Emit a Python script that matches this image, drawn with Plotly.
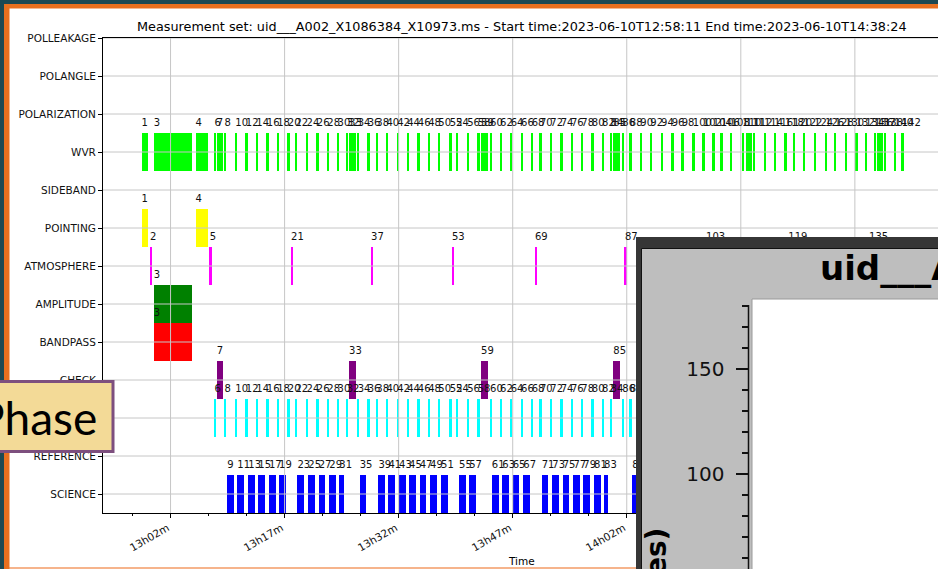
import plotly.graph_objects as go
from datetime import datetime

W, H = 938, 569
DAY = "2023-06-10"

# ---- intent rows, bottom to top ----
ROWS = ["SCIENCE", "REFERENCE", "PHASE", "CHECK", "BANDPASS", "AMPLITUDE",
        "ATMOSPHERE", "POINTING", "SIDEBAND", "WVR", "POLARIZATION",
        "POLANGLE", "POLLEAKAGE"]

COLORS = {"SCIENCE": "#0000ff", "PHASE": "#00ffff", "CHECK": "#800080",
          "BANDPASS": "#ff0000", "AMPLITUDE": "#008000", "ATMOSPHERE": "#ff00ff",
          "POINTING": "#ffff00", "WVR": "#00ff00"}

# ---- scan table per intent (scan number, start, end; UTC on DAY) ----
POINTING_SCANS = [1, 4]
POINTING_START = ["12:58:11", "13:05:17"]
POINTING_END = ["12:59:00", "13:06:54"]

BANDPASS_SCANS = [3]
BANDPASS_START = ["12:59:47"]
BANDPASS_END = ["13:04:47"]

AMPLITUDE_SCANS = [3]
AMPLITUDE_START = ["12:59:47"]
AMPLITUDE_END = ["13:04:47"]

ATMOSPHERE_SCANS = [2, 5, 21, 37, 53, 69, 87, 103, 119, 135]
ATMOSPHERE_START = ["12:59:18", "13:07:09", "13:17:51", "13:28:22", "13:39:01",
                    "13:49:56", "14:01:46", "14:12:26", "14:23:15", "14:33:52"]
ATMOSPHERE_END = ["12:59:33", "13:07:24", "13:18:06", "13:28:37", "13:39:16",
                  "13:50:11", "14:02:01", "14:12:41", "14:23:30", "14:34:07"]

CHECK_SCANS = [7, 33, 59, 85, 111, 137]
CHECK_START = ["13:08:05", "13:25:29", "13:42:50", "14:00:14", "14:17:39", "14:34:51"]
CHECK_END = ["13:08:57", "13:26:21", "13:43:43", "14:01:07", "14:18:32", "14:35:44"]

PHASE_SCANS = [6, 8, 10, 12, 14, 16, 18, 20, 22, 24, 26, 28, 30, 32, 34, 36, 38,
               40, 42, 44, 46, 48, 50, 52, 54, 56, 58, 60, 62, 64, 66, 68, 70,
               72, 74, 76, 78, 80, 82, 84, 86, 88, 90, 92, 94, 96, 98, 100, 102,
               104, 106, 108, 110, 112, 114, 116, 118, 120, 122, 124, 126, 128,
               130, 132, 134, 136, 138, 140, 142]
PHASE_START = ["13:07:47", "13:09:05", "13:10:31", "13:11:54", "13:13:17", "13:14:40",
               "13:16:02", "13:17:25", "13:18:26", "13:19:53", "13:21:14", "13:22:37",
               "13:23:58", "13:25:10", "13:26:37", "13:27:56", "13:29:04", "13:30:24",
               "13:31:48", "13:33:07", "13:34:31", "13:35:53", "13:37:13", "13:38:44",
               "13:39:33", "13:41:01", "13:42:24", "13:44:01", "13:45:20", "13:46:44",
               "13:48:06", "13:49:30", "13:50:35", "13:51:57", "13:53:19", "13:54:40",
               "13:56:01", "13:57:24", "13:58:45", "13:59:52", "14:01:25", "14:02:24",
               "14:03:47", "14:05:06", "14:06:31", "14:07:55", "14:09:14", "14:10:41",
               "14:12:00", "14:13:19", "14:14:22", "14:15:40", "14:17:12", "14:18:40",
               "14:20:03", "14:21:22", "14:22:47", "14:23:52", "14:25:13", "14:26:38",
               "14:28:05", "14:29:21", "14:30:43", "14:32:07", "14:33:22", "14:34:31",
               "14:35:50", "14:37:09", "14:38:10"]
PHASE_END = ["13:08:01", "13:09:19", "13:10:45", "13:12:08", "13:13:31", "13:14:54",
             "13:16:16", "13:17:39", "13:18:40", "13:20:07", "13:21:28", "13:22:51",
             "13:24:12", "13:25:24", "13:26:51", "13:28:10", "13:29:18", "13:30:38",
             "13:32:02", "13:33:21", "13:34:45", "13:36:07", "13:37:27", "13:38:58",
             "13:39:47", "13:41:15", "13:42:38", "13:44:15", "13:45:34", "13:46:58",
             "13:48:20", "13:49:44", "13:50:49", "13:52:11", "13:53:33", "13:54:54",
             "13:56:15", "13:57:38", "13:58:59", "14:00:06", "14:01:39", "14:02:38",
             "14:04:01", "14:05:20", "14:06:45", "14:08:09", "14:09:28", "14:10:55",
             "14:12:14", "14:13:33", "14:14:36", "14:15:54", "14:17:26", "14:18:54",
             "14:20:17", "14:21:36", "14:23:01", "14:24:06", "14:25:27", "14:26:52",
             "14:28:19", "14:29:35", "14:30:57", "14:32:21", "14:33:36", "14:34:45",
             "14:36:04", "14:37:23", "14:38:24"]

SCIENCE_SCANS = [9, 11, 13, 15, 17, 19, 23, 25, 27, 29, 31, 35, 39, 41, 43, 45, 47,
                 49, 51, 55, 57, 61, 63, 65, 67, 71, 73, 75, 77, 79, 81, 83, 89, 91,
                 93, 95, 97, 99, 101, 105, 107, 109, 113, 115, 117, 121, 123, 125,
                 127, 129, 131, 133, 139, 141]
SCIENCE_START = ["13:09:28", "13:10:47", "13:12:14", "13:13:33", "13:14:57", "13:16:16",
                 "13:18:41", "13:20:07", "13:21:29", "13:22:53", "13:24:12", "13:26:53",
                 "13:29:20", "13:30:39", "13:32:03", "13:33:22", "13:34:46", "13:36:08",
                 "13:37:35", "13:39:57", "13:41:17", "13:44:15", "13:45:38", "13:47:00",
                 "13:48:24", "13:50:49", "13:52:13", "13:53:35", "13:54:59", "13:56:17",
                 "13:57:42", "13:59:01", "14:02:44", "14:04:03", "14:05:22", "14:06:47",
                 "14:08:11", "14:09:30", "14:10:57", "14:13:35", "14:14:38", "14:15:56",
                 "14:18:56", "14:20:19", "14:21:38", "14:24:08", "14:25:29", "14:26:54",
                 "14:28:21", "14:29:37", "14:30:59", "14:32:23", "14:36:06", "14:37:25"]
SCIENCE_END = ["13:10:21", "13:11:40", "13:13:07", "13:14:26", "13:15:50", "13:17:09",
               "13:19:33", "13:21:00", "13:22:22", "13:23:46", "13:24:49", "13:27:45",
               "13:30:13", "13:31:32", "13:32:56", "13:34:15", "13:35:39", "13:37:01",
               "13:38:28", "13:40:50", "13:42:10", "13:45:08", "13:46:31", "13:47:53",
               "13:49:17", "13:51:42", "13:53:06", "13:54:28", "13:55:52", "13:57:10",
               "13:58:35", "13:59:35", "14:03:37", "14:04:56", "14:06:15", "14:07:40",
               "14:09:04", "14:10:23", "14:11:50", "14:14:12", "14:15:31", "14:16:49",
               "14:19:49", "14:21:12", "14:22:31", "14:25:01", "14:26:22", "14:27:47",
               "14:29:14", "14:30:30", "14:31:52", "14:33:16", "14:36:59", "14:38:05"]

# ---- time axis ----
X_RANGE = ["12:53:07", "14:42:56"]
MAJOR_TICKS = ["13:02", "13:17", "13:32", "13:47", "14:02", "14:17", "14:32"]
MAJOR_LABELS = ["13h02m", "13h17m", "13h32m", "13h47m", "14h02m", "14h17m", "14h32m"]
MINOR_TICKS = ["12:57", "13:07", "13:12", "13:22", "13:27", "13:37", "13:42",
               "13:52", "13:57", "14:07", "14:12", "14:22", "14:27", "14:37", "14:42"]

TITLE = ("Measurement set: uid___A002_X1086384_X10973.ms - "
         "Start time:2023-06-10T12:58:11 End time:2023-06-10T14:38:24")

# ---- inset panel (elevation plot window) ----
INSET_TITLE = "uid___A002_X1086384_X10973"
INSET_YLABEL = "Azimuth (degrees)"
INSET_MAJOR = [100, 150]
INSET_MINOR = [60, 70, 80, 90, 110, 120, 130, 140, 160, 170, 180]
INSET_RANGE = [54.7, 213.1]

LABEL_LIFT = 0.12  # scan numbers sit slightly above the bar tops


def ts(t):
    return f"{DAY} {t}" if len(t) > 5 else f"{DAY} {t}:00"


def seconds(a, b):
    fmt = "%H:%M:%S"
    return (datetime.strptime(b, fmt) - datetime.strptime(a, fmt)).total_seconds()


intent_tables = {
    "SCIENCE": (SCIENCE_SCANS, SCIENCE_START, SCIENCE_END),
    "PHASE": (PHASE_SCANS, PHASE_START, PHASE_END),
    "CHECK": (CHECK_SCANS, CHECK_START, CHECK_END),
    "BANDPASS": (BANDPASS_SCANS, BANDPASS_START, BANDPASS_END),
    "AMPLITUDE": (AMPLITUDE_SCANS, AMPLITUDE_START, AMPLITUDE_END),
    "ATMOSPHERE": (ATMOSPHERE_SCANS, ATMOSPHERE_START, ATMOSPHERE_END),
    "POINTING": (POINTING_SCANS, POINTING_START, POINTING_END),
}
# WVR data were taken during every calibrator scan except atmosphere/science
wvr = []
for key in ["POINTING", "BANDPASS", "PHASE", "CHECK"]:
    s, a, b = intent_tables[key]
    wvr += list(zip(s, a, b))
wvr.sort()
intent_tables["WVR"] = ([w[0] for w in wvr], [w[1] for w in wvr], [w[2] for w in wvr])

DRAW_ORDER = ["SCIENCE", "PHASE", "CHECK", "BANDPASS", "AMPLITUDE",
              "ATMOSPHERE", "POINTING", "WVR"]

TEAL = "#1d4953"
ORANGE = "#e8701f"


def px_x(x):
    return x / W


def px_y(y):
    return 1 - y / H


fig = go.Figure()

# bars, one trace per intent
for name in DRAW_ORDER:
    scans, starts, ends = intent_tables[name]
    row = ROWS.index(name)
    fig.add_trace(go.Bar(
        orientation="h",
        base=[ts(s) for s in starts],
        x=[seconds(s, e) * 1000 for s, e in zip(starts, ends)],
        y=[row] * len(scans), width=1,
        marker=dict(color=COLORS[name], line=dict(width=0)),
        hoverinfo="skip", showlegend=False))

# grid drawn over the bars
gx, gy = [], []
for t in MAJOR_TICKS:
    gx += [ts(t), ts(t), None]
    gy += [-0.5, len(ROWS) - 1, None]
for r in range(len(ROWS)):
    gx += [ts(X_RANGE[0]), ts(X_RANGE[1]), None]
    gy += [r, r, None]
fig.add_trace(go.Scatter(x=gx, y=gy, mode="lines",
                         line=dict(color="#c6c6c6", width=1),
                         hoverinfo="skip", showlegend=False))

# scan numbers above each bar
lx, ly, lt = [], [], []
for name in DRAW_ORDER:
    scans, starts, ends = intent_tables[name]
    row = ROWS.index(name)
    for s, a in zip(scans, starts):
        lx.append(ts(a))
        ly.append(row + 0.5 + LABEL_LIFT)
        lt.append(str(s))
fig.add_trace(go.Scatter(x=lx, y=ly, text=lt, mode="text",
                         textposition="top right",
                         textfont=dict(family="DejaVu Sans", size=10, color="#111"),
                         hoverinfo="skip", showlegend=False))

# placeholder trace that creates the inset subplot
fig.add_trace(go.Scatter(x=[None], y=[None], xaxis="x2", yaxis="y2",
                         hoverinfo="skip", showlegend=False))

y_lo, y_hi = INSET_RANGE
units_per_px = (y_hi - y_lo) / (H - 237)


def inset_y(py):
    return y_lo + (H - py) * units_per_px


shapes = [
    # slide frame
    dict(type="rect", xref="paper", yref="paper", layer="below",
         x0=px_x(4), x1=1, y0=0, y1=px_y(4), fillcolor=ORANGE, line=dict(width=0)),
    dict(type="rect", xref="paper", yref="paper", layer="below",
         x0=px_x(9.5), x1=1, y0=px_y(567), y1=px_y(8.5), fillcolor="white",
         line=dict(width=0)),
    dict(type="rect", xref="paper", yref="paper", layer="below",
         x0=px_x(9.5), x1=1, y0=0, y1=px_y(567), fillcolor="#f6b48c",
         line=dict(width=0)),
    # inset window
    dict(type="rect", xref="x2", yref="y2", layer="below",
         x0=636, x1=940, y0=inset_y(571), y1=inset_y(237), fillcolor="#363636",
         line=dict(width=0)),
    dict(type="rect", xref="x2", yref="y2", layer="below",
         x0=641.5, x1=940, y0=inset_y(571), y1=inset_y(248.5), fillcolor="#bebebe",
         line=dict(color="#111", width=1)),
    dict(type="rect", xref="x2", yref="y2", layer="below",
         x0=752, x1=940, y0=inset_y(571), y1=inset_y(299), fillcolor="white",
         line=dict(color="#9a9a9a", width=1)),
    dict(type="line", xref="x2", yref="y2", layer="below",
         x0=748.5, x1=748.5, y0=inset_y(571), y1=inset_y(305),
         line=dict(color="#111", width=1.5)),
    # slide label box
    dict(type="rect", xref="paper", yref="paper", layer="above",
         x0=px_x(-4), x1=px_x(113), y0=px_y(451.5), y1=px_y(381.5),
         fillcolor="#f3da97", line=dict(color="#7d4f7e", width=3)),
]

annotations = [
    dict(text=TITLE, xref="paper", yref="paper", x=px_x(522), y=px_y(26),
         xanchor="center", yanchor="middle", showarrow=False,
         font=dict(family="DejaVu Sans", size=12.8, color="#000")),
    dict(text="Time", xref="paper", yref="paper", x=px_x(521), y=px_y(561),
         xanchor="center", yanchor="middle", showarrow=False,
         font=dict(family="DejaVu Sans", size=10.5, color="#000")),
    dict(text="Phase", xref="paper", yref="paper", x=px_x(99), y=px_y(417),
         xanchor="right", yanchor="middle", showarrow=False,
         font=dict(family="Lato", size=46, color="#000")),
    dict(text="<b>" + INSET_TITLE + "</b>", xref="paper", yref="paper",
         x=px_x(818), y=px_y(268), xanchor="left", yanchor="middle",
         showarrow=False, font=dict(family="DejaVu Sans", size=34, color="#000")),
    dict(text="<b>" + INSET_YLABEL + "</b>", xref="paper", yref="paper",
         x=px_x(656), y=px_y(526), xanchor="center", yanchor="top",
         textangle=-90, showarrow=False,
         font=dict(family="DejaVu Sans", size=28, color="#000")),
]

fig.update_layout(
    width=W, height=H, margin=dict(l=0, r=0, t=0, b=0),
    template="none", paper_bgcolor=TEAL, plot_bgcolor="white",
    barmode="overlay", bargap=0, showlegend=False,
    shapes=shapes, annotations=annotations,
    xaxis=dict(type="date", domain=[px_x(103), 1], anchor="y",
               range=[ts(X_RANGE[0]), ts(X_RANGE[1])],
               tickmode="array", tickvals=[ts(t) for t in MAJOR_TICKS],
               ticktext=MAJOR_LABELS, tickangle=-30, ticklabelshift=-3,
               ticks="outside", ticklen=4, tickwidth=1, tickcolor="#000",
               showline=True, linecolor="#000", linewidth=1, mirror=True,
               showgrid=False, zeroline=False,
               tickfont=dict(family="DejaVu Sans", size=10.5, color="#111"),
               minor=dict(tickmode="array", tickvals=[ts(t) for t in MINOR_TICKS],
                          ticks="outside", ticklen=2, tickwidth=1,
                          tickcolor="#000", showgrid=False)),
    yaxis=dict(domain=[px_y(513), px_y(38)], anchor="x",
               range=[-0.5, len(ROWS) - 1],
               tickmode="array", tickvals=list(range(len(ROWS))), ticktext=ROWS,
               ticks="outside", ticklen=4, tickwidth=1, tickcolor="#000",
               showline=True, linecolor="#000", linewidth=1, mirror=False,
               showgrid=False, zeroline=False,
               tickfont=dict(family="DejaVu Sans", size=10.5, color="#111")),
    xaxis2=dict(domain=[px_x(636), 1], anchor="y2", range=[636, W],
                visible=False, showgrid=False, zeroline=False),
    yaxis2=dict(domain=[0, px_y(237)], anchor="free", position=px_x(748.5),
                side="left", range=INSET_RANGE,
                tickmode="array", tickvals=INSET_MAJOR,
                ticktext=[str(v) for v in INSET_MAJOR],
                ticks="outside", ticklen=13, tickwidth=1.5, tickcolor="#111",
                ticklabelstandoff=7,
                showline=False, showgrid=False, zeroline=False,
                tickfont=dict(family="DejaVu Sans", size=20, color="#111"),
                minor=dict(tickmode="array", tickvals=INSET_MINOR,
                           ticks="outside", ticklen=6.5, tickwidth=1.5,
                           tickcolor="#111", showgrid=False)),
)

fig.write_html("out.html")
